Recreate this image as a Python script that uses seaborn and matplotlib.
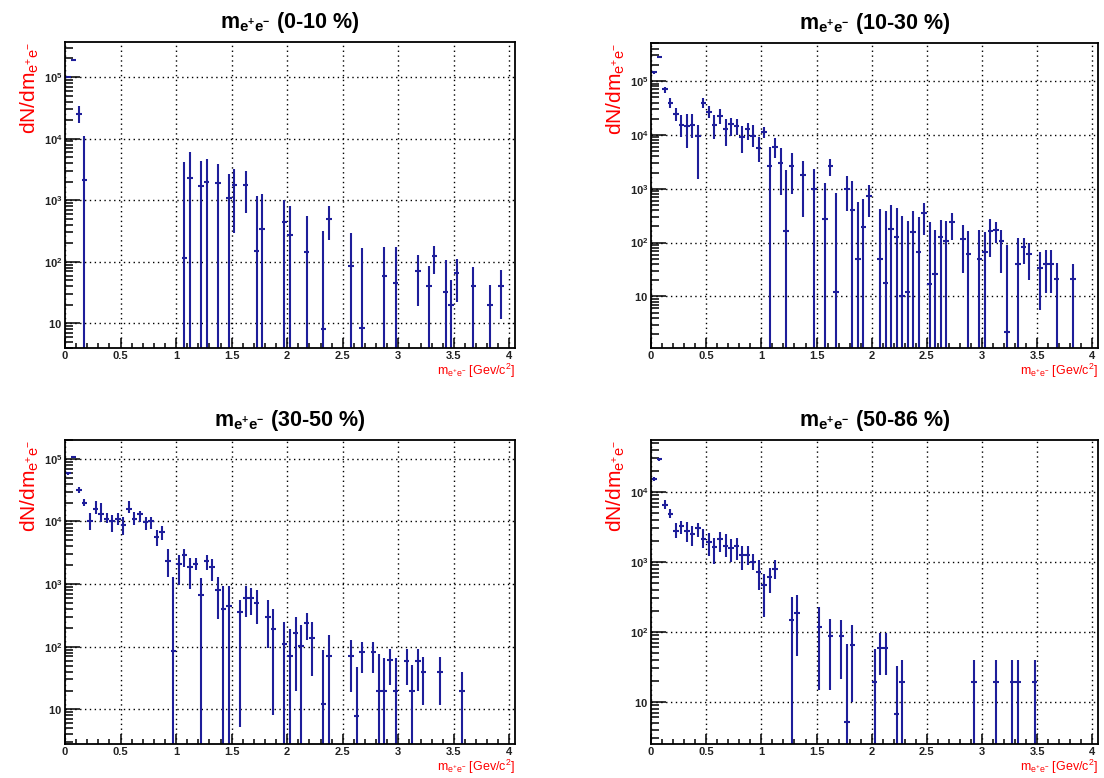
import numpy as np
import pandas as pd
import matplotlib
matplotlib.use("Agg")
import matplotlib.pyplot as plt
import seaborn as sns
from matplotlib.ticker import FuncFormatter, LogLocator, MultipleLocator, NullFormatter

# bin centres [GeV/c^2], counts, lower / upper end of the error bar (0 = below the axis)
x_0_10 = [0.025, 0.075, 0.125, 0.175, 1.075, 1.125, 1.225, 1.275, 1.375, 1.475, 1.525, 1.625,
          1.725, 1.775, 1.975, 2.025, 2.175, 2.325, 2.375, 2.575, 2.675, 2.875, 2.975, 3.175,
          3.275, 3.325, 3.425, 3.475, 3.525, 3.675, 3.825, 3.925]
y_0_10 = [1.0e5, 1.87e5, 2.5e4, 2150, 115, 2300, 1700, 2000, 1900, 1070, 1800, 1800,
          152, 340, 445, 270, 145, 8, 500, 85, 8.5, 58, 46, 72,
          40, 126, 33, 20, 66, 40, 20, 40]
lo_0_10 = [9.5e4, 1.8e5, 1.8e4, 0, 0, 0, 0, 0, 0, 0, 295, 630,
           0, 0, 0, 0, 0, 0, 230, 0, 0, 0, 0, 19.5,
           0, 64, 0, 0, 22, 0, 0, 12]
hi_0_10 = [1.05e5, 1.95e5, 3.4e4, 1.1e4, 4100, 6000, 4400, 4700, 3900, 2700, 3200, 2950,
           1180, 1260, 1000, 800, 550, 315, 800, 295, 166, 175, 175, 128,
           87, 183, 106, 50, 112, 83, 42, 73]

x_10_30 = [0.025, 0.075, 0.125, 0.175, 0.225, 0.275, 0.325, 0.375, 0.425, 0.475,
           0.525, 0.575, 0.625, 0.675, 0.725, 0.775, 0.825, 0.875, 0.925, 0.975,
           1.025, 1.075, 1.125, 1.175, 1.225, 1.275, 1.375, 1.475, 1.575, 1.625,
           1.675, 1.775, 1.825, 1.875, 1.925, 1.975, 2.075, 2.125, 2.175, 2.225,
           2.275, 2.325, 2.375, 2.425, 2.475, 2.525, 2.575, 2.625, 2.675, 2.725,
           2.825, 2.875, 2.975, 3.025, 3.075, 3.125, 3.175, 3.225, 3.325, 3.375,
           3.425, 3.525, 3.575, 3.625, 3.675, 3.825]
y_10_30 = [1.45e5, 2.8e5, 7.1e4, 4.0e4, 2.4e4, 1.55e4, 1.48e4, 1.55e4, 9.5e3, 4.0e4,
           2.7e4, 1.55e4, 2.2e4, 1.3e4, 1.6e4, 1.48e4, 9.3e3, 1.3e4, 9.5e3, 5.6e3,
           1.15e4, 2.6e3, 6.0e3, 2.95e3, 166, 2.6e3, 1.8e3, 1000, 275, 2.6e3,
           12.3, 1000, 400, 49, 195, 725, 49, 18, 178, 126,
           10, 12.3, 155, 68, 355, 17, 26, 126, 107, 240,
           115, 62, 49, 66, 166, 174, 107, 2.2, 40, 81,
           62, 34, 40, 40, 21, 21]
lo_10_30 = [1.38e5, 2.7e5, 6.0e4, 3.2e4, 1.8e4, 9.3e3, 5.6e3, 8.7e3, 1.5e3, 3.2e4,
            2.05e4, 8.5e3, 1.6e4, 6.3e3, 9.5e3, 1.0e4, 4.7e3, 8.1e3, 6.0e3, 3.2e3,
            8.7e3, 0, 3.7e3, 780, 0, 810, 295, 0, 0, 1.7e3,
            0, 390, 0, 0, 0, 300, 0, 0, 0, 0,
            0, 0, 0, 0, 138, 0, 0, 0, 0, 112,
            27, 0, 0, 0, 55, 98, 27, 0, 0, 40,
            20, 5.6, 11.5, 11.5, 0, 0]
hi_10_30 = [1.52e5, 2.9e5, 7.9e4, 4.8e4, 3.2e4, 2.3e4, 2.4e4, 2.4e4, 1.55e4, 4.8e4,
            3.5e4, 2.3e4, 3.0e4, 1.95e4, 2.05e4, 1.95e4, 1.48e4, 1.7e4, 1.55e4, 9.3e3,
            1.4e4, 6.0e3, 8.7e3, 5.6e3, 2.2e3, 4.7e3, 3.3e3, 2.3e3, 1.26e3, 3.5e3,
            830, 1.7e3, 1.4e3, 575, 645, 1.17e3, 415, 380, 500, 435,
            315, 250, 380, 295, 535, 245, 173, 263, 250, 355,
            214, 162, 173, 155, 275, 245, 173, 91, 120, 120,
            98, 68, 74, 74, 42, 40]

x_30_50 = [0.025, 0.075, 0.125, 0.175, 0.225, 0.275, 0.325, 0.375, 0.425, 0.475,
           0.525, 0.575, 0.625, 0.675, 0.725, 0.775, 0.825, 0.875, 0.925, 0.975,
           1.025, 1.075, 1.125, 1.175, 1.225, 1.275, 1.325, 1.375, 1.425, 1.475,
           1.575, 1.625, 1.675, 1.725, 1.825, 1.875, 1.975, 2.025, 2.075, 2.125,
           2.175, 2.225, 2.325, 2.375, 2.575, 2.625, 2.675, 2.775, 2.825, 2.875,
           2.925, 2.975, 3.075, 3.125, 3.175, 3.225, 3.375, 3.575]
y_30_50 = [5.9e4, 1.07e5, 3.2e4, 2.0e4, 1.0e4, 1.6e4, 1.3e4, 1.1e4, 1.0e4, 1.1e4,
           8.9e3, 1.6e4, 1.1e4, 1.3e4, 9.8e3, 1.0e4, 5.7e3, 6.9e3, 2.3e3, 84,
           2.1e3, 2.9e3, 1.85e3, 2.1e3, 670, 2.35e3, 1.85e3, 810, 400, 440,
           360, 590, 590, 500, 300, 195, 112, 70, 163, 104,
           237, 136, 12, 72, 72, 7.8, 81, 81, 20, 20,
           61, 20, 60, 20, 60, 39, 39, 20]
lo_30_50 = [5.6e4, 1.02e5, 2.9e4, 1.75e4, 7.4e3, 1.32e4, 9.8e3, 9.5e3, 6.8e3, 8.9e3,
            6.0e3, 1.35e4, 8.7e3, 9.8e3, 7.4e3, 7.6e3, 4.0e3, 5.1e3, 1.32e3, 0,
            980, 1.9e3, 850, 1.7e3, 0, 1.7e3, 1.12e3, 275, 0, 0,
            5.3, 300, 325, 230, 94, 8.1, 0, 0, 20, 0,
            129, 34, 0, 0, 19, 0, 38, 38, 0, 0,
            24.5, 0, 24.5, 0, 20, 11.7, 11.7, 0]
hi_30_50 = [6.2e4, 1.12e5, 3.5e4, 2.3e4, 1.38e4, 2.1e4, 2.0e4, 1.38e4, 1.29e4, 1.38e4,
            1.17e4, 2.1e4, 1.41e4, 1.48e4, 1.2e4, 1.2e4, 7.4e3, 8.5e3, 3.7e3, 1.3e3,
            2.95e3, 3.7e3, 2.6e3, 2.6e3, 1.24e3, 2.95e3, 2.5e3, 1.32e3, 940, 940,
            550, 940, 860, 810, 560, 400, 250, 195, 295, 224,
            347, 251, 89, 154, 129, 48, 120, 120, 77, 65,
            93, 65, 93, 51, 93, 69, 69, 39]

x_50_86 = [0.025, 0.075, 0.125, 0.175, 0.225, 0.275, 0.325, 0.375, 0.425, 0.475,
           0.525, 0.575, 0.625, 0.675, 0.725, 0.775, 0.825, 0.875, 0.925, 0.975,
           1.025, 1.075, 1.125, 1.275, 1.325, 1.525, 1.625, 1.725, 1.775, 1.825,
           2.025, 2.075, 2.125, 2.225, 2.275, 2.925, 3.125, 3.275, 3.325, 3.475]
y_50_86 = [1.55e4, 2.9e4, 6.5e3, 4.9e3, 2.8e3, 3.2e3, 2.8e3, 2.5e3, 3.0e3, 2.1e3,
           1.95e3, 1.65e3, 2.1e3, 1.7e3, 1.6e3, 1.7e3, 1.25e3, 1.25e3, 1.0e3, 710,
           460, 600, 790, 148, 183, 118, 86, 86, 5.2, 64,
           19, 59, 59, 6.8, 19, 19, 19, 19, 19, 19]
lo_50_86 = [1.45e4, 2.75e4, 5.6e3, 4.2e3, 2.2e3, 2.5e3, 1.9e3, 1.7e3, 2.25e3, 1.6e3,
            1.23e3, 940, 1.4e3, 1.17e3, 1.0e3, 1.05e3, 760, 890, 760, 390,
            165, 355, 575, 0, 45, 15, 15, 21, 0, 10,
            0, 24.5, 24.5, 0, 0, 0, 0, 0, 0, 0]
hi_50_86 = [1.65e4, 3.05e4, 7.6e3, 5.6e3, 3.6e3, 3.8e3, 3.7e3, 3.2e3, 3.6e3, 2.95e3,
            2.6e3, 2.2e3, 2.7e3, 2.5e3, 2.1e3, 2.2e3, 1.66e3, 1.66e3, 1.3e3, 1.07e3,
            670, 830, 1.07e3, 315, 335, 230, 155, 148, 66, 125,
            57, 96, 96, 32, 40, 40, 40, 40, 40, 40]

titles = ["(0-10 %)", "(10-30 %)", "(30-50 %)", "(50-86 %)"]
ylims = [(4.0, 3.7e5), (1.1, 5.1e5), (2.8, 2.0e5), (2.5, 5.5e4)]

sns.set_theme(style="ticks")
plt.rcParams['font.family'] = ['Liberation Sans', 'DejaVu Sans']
plt.rcParams['mathtext.fontset'] = 'custom'
plt.rcParams['mathtext.rm'] = 'Liberation Sans'
plt.rcParams['mathtext.it'] = 'Liberation Sans:italic'
plt.rcParams['mathtext.bf'] = 'Liberation Sans:bold'
plt.rcParams['mathtext.default'] = 'regular'

W, H = 1104, 778
fig = plt.figure(figsize=(W / 100, H / 100), dpi=100)
fig.patch.set_facecolor("white")

# axes frames in pixels: left, top, right, bottom
frames = [(65, 42, 515, 348), (651, 43, 1098, 348),
          (65, 440, 515, 744), (651, 440, 1098, 744)]

panels = [(x_0_10, y_0_10, lo_0_10, hi_0_10),
          (x_10_30, y_10_30, lo_10_30, hi_10_30),
          (x_30_50, y_30_50, lo_30_50, hi_30_50),
          (x_50_86, y_50_86, lo_50_86, hi_50_86)]

blue = "#1e1e9a"


def log_label(v, pos):
    e = int(round(np.log10(v)))
    if e == 1:
        return r"$\mathbf{10}$"
    return r"$\mathbf{10^{%d}}$" % e


for (l, t, r, b), (xs, ys, los, his), title, ylim in zip(frames, panels, titles, ylims):
    ax = fig.add_axes([l / W, 1 - b / H, (r - l) / W, (b - t) / H])
    df = pd.DataFrame({"m": xs, "n": ys, "lo": los, "hi": his})
    floor = ylim[0] * 0.05
    lower = df["n"] - df["lo"].where(df["lo"] > 0, floor)
    upper = df["hi"] - df["n"]
    ax.errorbar(df["m"], df["n"], xerr=0.025, yerr=[lower, upper], fmt="none",
                ecolor=blue, elinewidth=1.5, capsize=0)
    sns.despine(ax=ax, top=False, right=False)

    ax.set_yscale("log")
    ax.set_ylim(*ylim)
    ax.set_xlim(0, 4.05)

    ax.xaxis.set_major_locator(MultipleLocator(0.5))
    ax.xaxis.set_minor_locator(MultipleLocator(0.1))
    ax.xaxis.set_major_formatter(FuncFormatter(lambda v, p: "%g" % v))
    ax.yaxis.set_major_locator(LogLocator(base=10, numticks=12))
    ax.yaxis.set_minor_locator(LogLocator(base=10, subs=np.arange(2, 10), numticks=12))
    ax.yaxis.set_major_formatter(FuncFormatter(log_label))
    ax.yaxis.set_minor_formatter(NullFormatter())

    ax.grid(True, which="major", color="black", linestyle=(0, (1, 2.5)), linewidth=1.0)
    ax.tick_params(axis="both", which="both", direction="in", top=False, right=False,
                   color="black", width=1.1, labelsize=8, labelcolor="#222222")
    ax.tick_params(axis="y", which="major", length=10.5, pad=2)
    ax.tick_params(axis="y", which="minor", length=5.5)
    ax.tick_params(axis="x", which="major", length=7, pad=2)
    ax.tick_params(axis="x", which="minor", length=3.7)
    for lab in ax.get_xticklabels():
        lab.set_fontweight("bold")
    for s in ax.spines.values():
        s.set_color("black")
        s.set_linewidth(1.3)

    ax.set_title(r"$\mathbf{m_{e^{+}e^{-}}}$ " + title, fontsize=15.5, fontweight="bold",
                 color="black", pad=10)
    ax.set_ylabel(r"dN/dm$_{e^{+}e^{-}}$", color="red", fontsize=15, loc="top", labelpad=2)
    ax.set_xlabel(r"m$_{e^{+}e^{-}}$ [Gev/c$^{2}$]", color="red", fontsize=9, loc="right",
                  labelpad=0.5)

fig.savefig("out.png", dpi=100, facecolor="white")
